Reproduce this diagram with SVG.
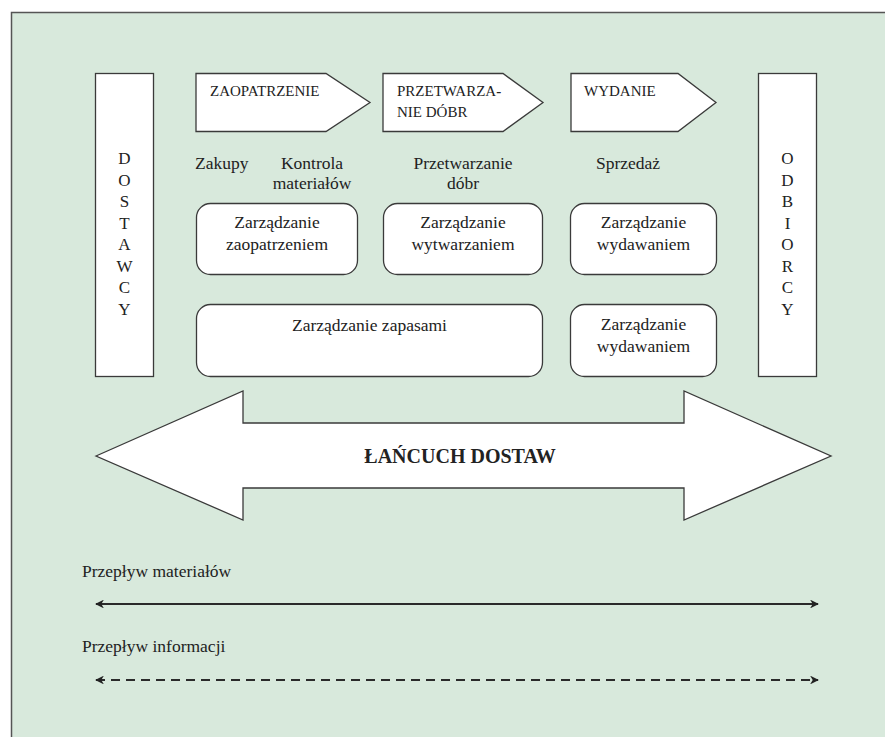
<svg xmlns="http://www.w3.org/2000/svg" width="885" height="737" viewBox="0 0 885 737" font-family="'Liberation Serif', Tinos, 'Times New Roman', 'DejaVu Serif', serif">
<style>
.shape{fill:#ffffff;stroke:#3a3a3a;stroke-width:1.3}
text{font-family:"Liberation Serif",Tinos,"Times New Roman","DejaVu Serif",serif;fill:#222;font-size:17.5px}
.c{text-anchor:middle}
.p{font-size:15px}
.v{font-size:17px;text-anchor:middle}
.flow{stroke:#2a2a2a;stroke-width:2.2;fill:none}
</style>
<defs>
<marker id="ah" viewBox="0 0 10 10" refX="9" refY="5" markerWidth="4" markerHeight="4" orient="auto-start-reverse" markerUnits="strokeWidth">
<path d="M0,0 L10,5 L0,10 L3,5 Z" fill="#222"/>
</marker>
</defs>
<rect x="11.5" y="12.5" width="890" height="740" fill="#d8e9dc" stroke="#555" stroke-width="1.5"/>

<g id="dostawcy">
<rect class="shape" x="95.5" y="73.5" width="58" height="303"/>
<text class="v" x="124.5" y="164">D</text><text class="v" x="124.5" y="186">O</text><text class="v" x="124.5" y="207">S</text><text class="v" x="124.5" y="229">T</text><text class="v" x="124.5" y="250">A</text><text class="v" x="124.5" y="272">W</text><text class="v" x="124.5" y="293">C</text><text class="v" x="124.5" y="315">Y</text>
</g>
<g id="odbiorcy">
<rect class="shape" x="758.5" y="73.5" width="58" height="303"/>
<text class="v" x="787.5" y="164">O</text><text class="v" x="787.5" y="186">D</text><text class="v" x="787.5" y="207">B</text><text class="v" x="787.5" y="229">I</text><text class="v" x="787.5" y="250">O</text><text class="v" x="787.5" y="272">R</text><text class="v" x="787.5" y="293">C</text><text class="v" x="787.5" y="315">Y</text>
</g>

<g id="zaopatrzenie">
<polygon class="shape" points="196,73.5 326,73.5 370,102.5 326,131.5 196,131.5"/>
<text class="p" x="210" y="96">ZAOPATRZENIE</text>
</g>
<g id="przetwarzanie">
<polygon class="shape" points="383,73.5 503,73.5 543,102.5 503,131.5 383,131.5"/>
<text class="p" x="397" y="96">PRZETWARZA<tspan font-weight="bold">-</tspan></text>
<text class="p" x="397" y="117">NIE DÓBR</text>
</g>
<g id="wydanie">
<polygon class="shape" points="571,73.5 678,73.5 716,102.5 678,131.5 571,131.5"/>
<text class="p" x="584" y="96">WYDANIE</text>
</g>

<g id="labels">
<text x="195" y="169">Zakupy</text>
<text class="c" x="312" y="169">Kontrola</text>
<text class="c" x="312" y="189">materiałów</text>
<text class="c" x="463" y="169">Przetwarzanie</text>
<text class="c" x="463" y="189">dóbr</text>
<text class="c" x="628" y="169">Sprzedaż</text>
</g>

<g id="zarz-zaopatrzeniem">
<rect class="shape" x="196.5" y="203.5" width="161" height="71" rx="14"/>
<text class="c" x="277" y="228">Zarządzanie</text>
<text class="c" x="277" y="250">zaopatrzeniem</text>
</g>
<g id="zarz-wytwarzaniem">
<rect class="shape" x="383.5" y="203.5" width="159" height="71" rx="14"/>
<text class="c" x="463" y="228">Zarządzanie</text>
<text class="c" x="463" y="250">wytwarzaniem</text>
</g>
<g id="zarz-wydawaniem-1">
<rect class="shape" x="570.5" y="203.5" width="146" height="71" rx="14"/>
<text class="c" x="643.5" y="228">Zarządzanie</text>
<text class="c" x="643.5" y="250">wydawaniem</text>
</g>
<g id="zarz-zapasami">
<rect class="shape" x="196.5" y="304.5" width="346" height="72" rx="14"/>
<text class="c" x="369.5" y="331">Zarządzanie zapasami</text>
</g>
<g id="zarz-wydawaniem-2">
<rect class="shape" x="570.5" y="304.5" width="146" height="72" rx="14"/>
<text class="c" x="643.5" y="330">Zarządzanie</text>
<text class="c" x="643.5" y="352">wydawaniem</text>
</g>

<g id="lancuch-dostaw">
<polygon class="shape" points="96,456 243,391 243,423 684,423 684,391 831,456 684,520 684,488 243,488 243,520"/>
<text class="c" x="460" y="463" font-weight="bold" style="font-size:20px">ŁAŃCUCH DOSTAW</text>
</g>

<g id="legend">
<text x="82" y="577">Przepływ materiałów</text>
<text x="82" y="652">Przepływ informacji</text>
</g>
<g id="connectors">
<line class="flow" x1="96" y1="604" x2="818" y2="604" marker-start="url(#ah)" marker-end="url(#ah)"/>
<line class="flow" x1="96" y1="680" x2="818" y2="680" stroke-dasharray="9 6" stroke-width="2.5" marker-start="url(#ah)" marker-end="url(#ah)"/>
</g>
</svg>
